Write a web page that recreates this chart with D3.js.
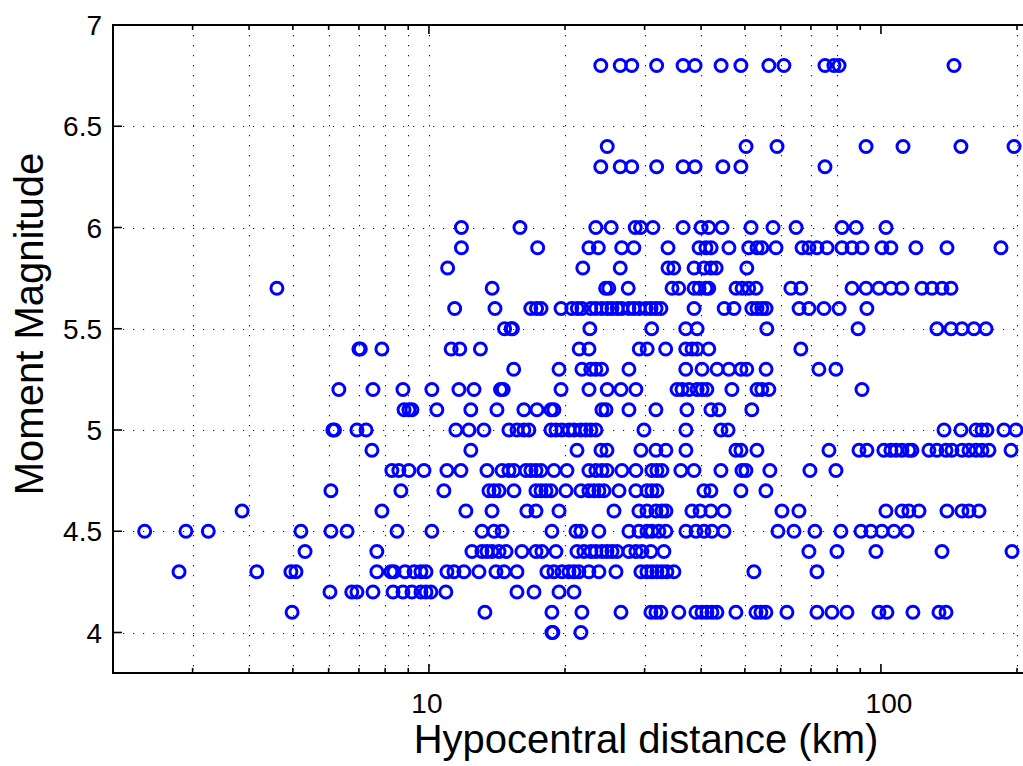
<!DOCTYPE html>
<html>
<head>
<meta charset="utf-8">
<script src="https://cdn.jsdelivr.net/npm/d3@7"></script>
<style>
  html, body { margin: 0; padding: 0; background: #fff; }
  svg { display: block; }
  text { font-family: "Liberation Sans", Arial, Helvetica, sans-serif; fill: #000; }
</style>
</head>
<body>
<svg id="chart" width="1023" height="766"></svg>
<script>
// Magnitude rows (Mw) and the hypocentral distances (km) of the records in each row
const magnitudes = [6.8, 6.4, 6.3, 6.0, 5.9, 5.8, 5.7, 5.6, 5.5, 5.4, 5.3, 5.2, 5.1, 5.0, 4.9, 4.8, 4.7, 4.6, 4.5, 4.4, 4.3, 4.2, 4.1, 4.0];
const distances = [
  [24.0, 26.5, 28.1, 31.9, 36.5, 38.8, 44.3, 49.0, 56.5, 61.0, 75.2, 78.7, 80.8, 145.1],
  [24.8, 50.3, 58.9, 92.7, 111.9, 150.3, 197.0],
  [24.0, 26.5, 28.1, 31.9, 36.5, 38.8, 44.7, 49.0, 75.2],
  [11.8, 15.9, 23.4, 25.3, 28.6, 29.4, 31.3, 36.5, 40.0, 41.6, 44.5, 51.6, 57.7, 64.9, 82.0, 88.1, 102.6],
  [11.8, 17.4, 22.6, 23.7, 26.7, 28.4, 33.8, 39.6, 41.0, 42.1, 46.1, 51.0, 53.2, 54.5, 58.6, 66.9, 69.3, 72.2, 76.0, 82.0, 86.3, 90.8, 100.5, 105.2, 119.5, 140.0, 184.3],
  [11.0, 21.9, 26.5, 33.8, 34.8, 38.6, 40.6, 42.1, 43.2, 50.5],
  [4.61, 13.8, 24.6, 25.0, 27.6, 34.5, 35.7, 38.6, 39.6, 41.0, 41.6, 47.8, 49.3, 51.0, 52.9, 63.2, 66.5, 86.3, 92.7, 99.0, 105.2, 111.3, 123.2, 129.7, 136.5, 142.9],
  [11.4, 14.0, 16.8, 17.3, 17.7, 19.6, 20.7, 21.3, 21.8, 22.8, 23.4, 24.1, 24.8, 25.4, 26.1, 26.7, 27.7, 28.4, 29.2, 30.2, 31.0, 31.8, 32.6, 38.6, 45.0, 47.3, 51.8, 53.2, 54.5, 55.7, 65.9, 69.3, 74.8, 80.8, 93.1],
  [14.7, 15.2, 15.3, 22.7, 31.1, 37.0, 39.2, 55.9, 89.0, 133.0, 142.9, 151.1, 160.6, 170.8],
  [7.0, 7.05, 7.87, 11.2, 11.7, 13.0, 21.5, 22.6, 29.2, 30.4, 33.4, 37.0, 38.2, 39.2, 41.6, 66.5],
  [15.4, 19.4, 21.8, 22.8, 23.4, 24.1, 27.7, 37.0, 40.2, 43.4, 46.1, 49.0, 50.5, 55.7, 72.9, 79.5],
  [6.32, 7.52, 8.76, 10.15, 11.65, 12.58, 14.4, 14.6, 19.6, 22.6, 24.8, 26.6, 28.7, 35.4, 36.3, 37.6, 39.2, 40.2, 41.2, 46.8, 53.2, 54.5, 56.5, 90.8],
  [8.81, 9.03, 9.17, 10.41, 12.38, 14.14, 16.22, 17.34, 18.62, 18.90, 24.14, 24.64, 27.70, 31.78, 37.22, 42.06, 43.8, 51.8],
  [6.13, 6.18, 6.93, 7.26, 11.47, 12.26, 13.23, 15.03, 15.66, 16.22, 16.64, 18.62, 19.10, 19.69, 20.41, 20.94, 21.69, 22.25, 22.82, 23.41, 29.90, 37.03, 44.26, 45.9, 137.9, 150.3, 162.3, 167.3, 171.6, 187.1, 199.0],
  [7.48, 12.38, 21.26, 24.02, 24.77, 29.44, 31.78, 33.44, 37.03, 47.77, 49.01, 53.17, 76.74, 89.43, 93.12, 101.5, 105.2, 108.0, 111.3, 115.3, 117.1, 127.7, 133.0, 139.3, 143.6, 151.1, 156.6, 162.3, 167.3, 173.4, 194.0],
  [8.28, 8.58, 9.03, 9.75, 10.96, 11.77, 13.44, 14.51, 15.03, 15.42, 16.39, 16.81, 17.25, 17.70, 18.90, 20.20, 22.59, 23.41, 24.14, 24.77, 26.73, 28.70, 31.14, 31.94, 32.76, 36.09, 38.58, 44.26, 49.26, 50.27, 56.80, 69.65, 79.52],
  [6.07, 8.67, 10.79, 13.58, 13.93, 14.29, 15.42, 17.25, 17.70, 18.15, 18.62, 20.10, 21.69, 22.59, 23.17, 23.77, 24.39, 26.33, 28.70, 30.36, 31.14, 31.94, 40.59, 42.06, 49.01, 55.66],
  [3.86, 7.87, 12.07, 13.79, 16.47, 17.25, 19.40, 25.67, 29.15, 30.36, 31.78, 32.76, 33.44, 38.18, 39.8, 42.06, 44.95, 60.39, 65.86, 102.6, 111.3, 115.3, 121.4, 140.0, 151.1, 156.6, 164.8],
  [2.35, 2.90, 3.25, 5.21, 6.07, 6.59, 8.50, 10.15, 13.10, 13.93, 14.51, 18.71, 21.15, 21.69, 23.77, 27.70, 29.15, 30.36, 31.14, 32.27, 33.44, 37.03, 38.97, 40.59, 42.28, 44.95, 59.17, 64.21, 71.44, 81.57, 90.34, 95.04, 100.5, 106.9, 114.2],
  [5.32, 7.67, 12.45, 13.10, 13.44, 13.79, 14.29, 14.81, 16.06, 17.25, 17.78, 19.10, 21.26, 22.02, 22.82, 23.41, 24.14, 24.77, 25.41, 26.07, 27.70, 28.70, 29.59, 30.98, 33.10, 69.29, 79.93, 97.49, 136.5, 195.0],
  [2.80, 4.16, 4.95, 5.08, 7.67, 8.24, 8.37, 8.85, 9.27, 9.60, 9.85, 10.96, 11.36, 11.95, 12.90, 14.07, 14.66, 15.66, 18.24, 18.90, 19.69, 20.41, 20.94, 21.47, 22.59, 23.77, 25.93, 29.44, 30.36, 31.14, 31.94, 32.76, 33.61, 34.83, 52.36, 72.18],
  [6.04, 6.75, 6.93, 7.52, 8.33, 8.76, 9.17, 9.60, 9.85, 10.10, 10.90, 15.66, 17.08, 19.40, 20.94],
  [4.98, 13.30, 18.71, 21.80, 26.60, 30.98, 31.78, 32.60, 35.72, 38.97, 40.18, 41.21, 42.28, 43.37, 47.77, 52.90, 54.26, 55.66, 61.95, 72.18, 77.92, 84.11, 99.00, 103.1, 117.7, 134.4, 139.3],
  [18.71, 18.8, 21.69]
];

// Axis settings
const xDomain = [2, 450];
const yDomain = [3.8, 7];
const yTickValues = [4, 4.5, 5, 5.5, 6, 6.5, 7];
const yGridValues = [4, 4.5, 5, 5.5, 6, 6.5];
const xMajorTicks = [10, 100];
const xMinorTicks = [3, 4, 5, 6, 7, 8, 9, 20, 30, 40, 50, 60, 70, 80, 90, 200, 300, 400];
const xGridValues = [3, 4, 5, 6, 7, 8, 9, 10, 20, 30, 40, 50, 60, 70, 80, 200, 300, 400];
const xTickLabels = ["10", "100"];
const xTitle = "Hypocentral distance (km)";
const yTitle = "Moment Magnitude";

(function () {
const svg = d3.select("#chart");
const pLeft = 113, pTop = 25, pBottom = 673;
const decadePx = 452;
const pRight = pLeft + decadePx * Math.log10(xDomain[1] / xDomain[0]);
const labelShift = [-2, 8];

const x = d3.scaleLog().domain(xDomain).range([pLeft, pRight]);
const y = d3.scaleLinear().domain(yDomain).range([pBottom, pTop]);

const points = [];
magnitudes.forEach((m, i) => distances[i].forEach(d => points.push({ d, m })));

// grid
const grid = svg.append("g").attr("stroke", "#000").attr("stroke-width", 1.1)
  .attr("stroke-dasharray", "1.2 8.8").attr("fill", "none").attr("opacity", 0.9);
grid.selectAll("line.gx").data(xGridValues).join("line")
  .attr("x1", d => Math.round(x(d)) + 0.5).attr("x2", d => Math.round(x(d)) + 0.5)
  .attr("y1", pTop).attr("y2", pBottom);
grid.selectAll("line.gy").data(yGridValues).join("line")
  .attr("y1", d => Math.round(y(d)) + 0.5).attr("y2", d => Math.round(y(d)) + 0.5)
  .attr("x1", pLeft).attr("x2", pRight);

// points
svg.append("g").selectAll("circle").data(points).join("circle")
  .attr("cx", p => x(p.d)).attr("cy", p => y(p.m)).attr("r", 6)
  .attr("fill", "none").attr("stroke", "#0000ff").attr("stroke-width", 3);

// frame
svg.append("rect").attr("x", pLeft).attr("y", pTop)
  .attr("width", pRight - pLeft).attr("height", pBottom - pTop)
  .attr("stroke", "#000").attr("stroke-width", 2).attr("fill", "none");

// ticks (inward)
const ticks = svg.append("g").attr("stroke", "#000").attr("stroke-width", 1.6);
xMajorTicks.forEach(v => {
  ticks.append("line").attr("x1", x(v)).attr("x2", x(v)).attr("y1", pBottom).attr("y2", pBottom - 9);
  ticks.append("line").attr("x1", x(v)).attr("x2", x(v)).attr("y1", pTop).attr("y2", pTop + 9);
});
xMinorTicks.forEach(v => {
  ticks.append("line").attr("x1", x(v)).attr("x2", x(v)).attr("y1", pBottom).attr("y2", pBottom - 5);
  ticks.append("line").attr("x1", x(v)).attr("x2", x(v)).attr("y1", pTop).attr("y2", pTop + 5);
});
yTickValues.forEach(v => {
  ticks.append("line").attr("x1", pLeft).attr("x2", pLeft + 9).attr("y1", y(v)).attr("y2", y(v));
  ticks.append("line").attr("x1", pRight).attr("x2", pRight - 9).attr("y1", y(v)).attr("y2", y(v));
});

// tick labels
svg.append("g").selectAll("text").data(yTickValues).join("text")
  .attr("x", 102).attr("y", d => y(d) + 10)
  .attr("text-anchor", "end").attr("font-size", 28)
  .text(d => d3.format("")(d));
svg.append("g").selectAll("text").data(xMajorTicks).join("text")
  .attr("x", (d, i) => x(d) + labelShift[i]).attr("y", 713)
  .attr("text-anchor", "middle").attr("font-size", 28)
  .text((d, i) => xTickLabels[i]);

// titles
svg.append("text").attr("x", 646).attr("y", 753).attr("text-anchor", "middle")
  .attr("font-size", 40).text(xTitle);
svg.append("text").attr("transform", "translate(43,324) rotate(-90)")
  .attr("text-anchor", "middle").attr("font-size", 40).text(yTitle);
})();
</script>
</body>
</html>
